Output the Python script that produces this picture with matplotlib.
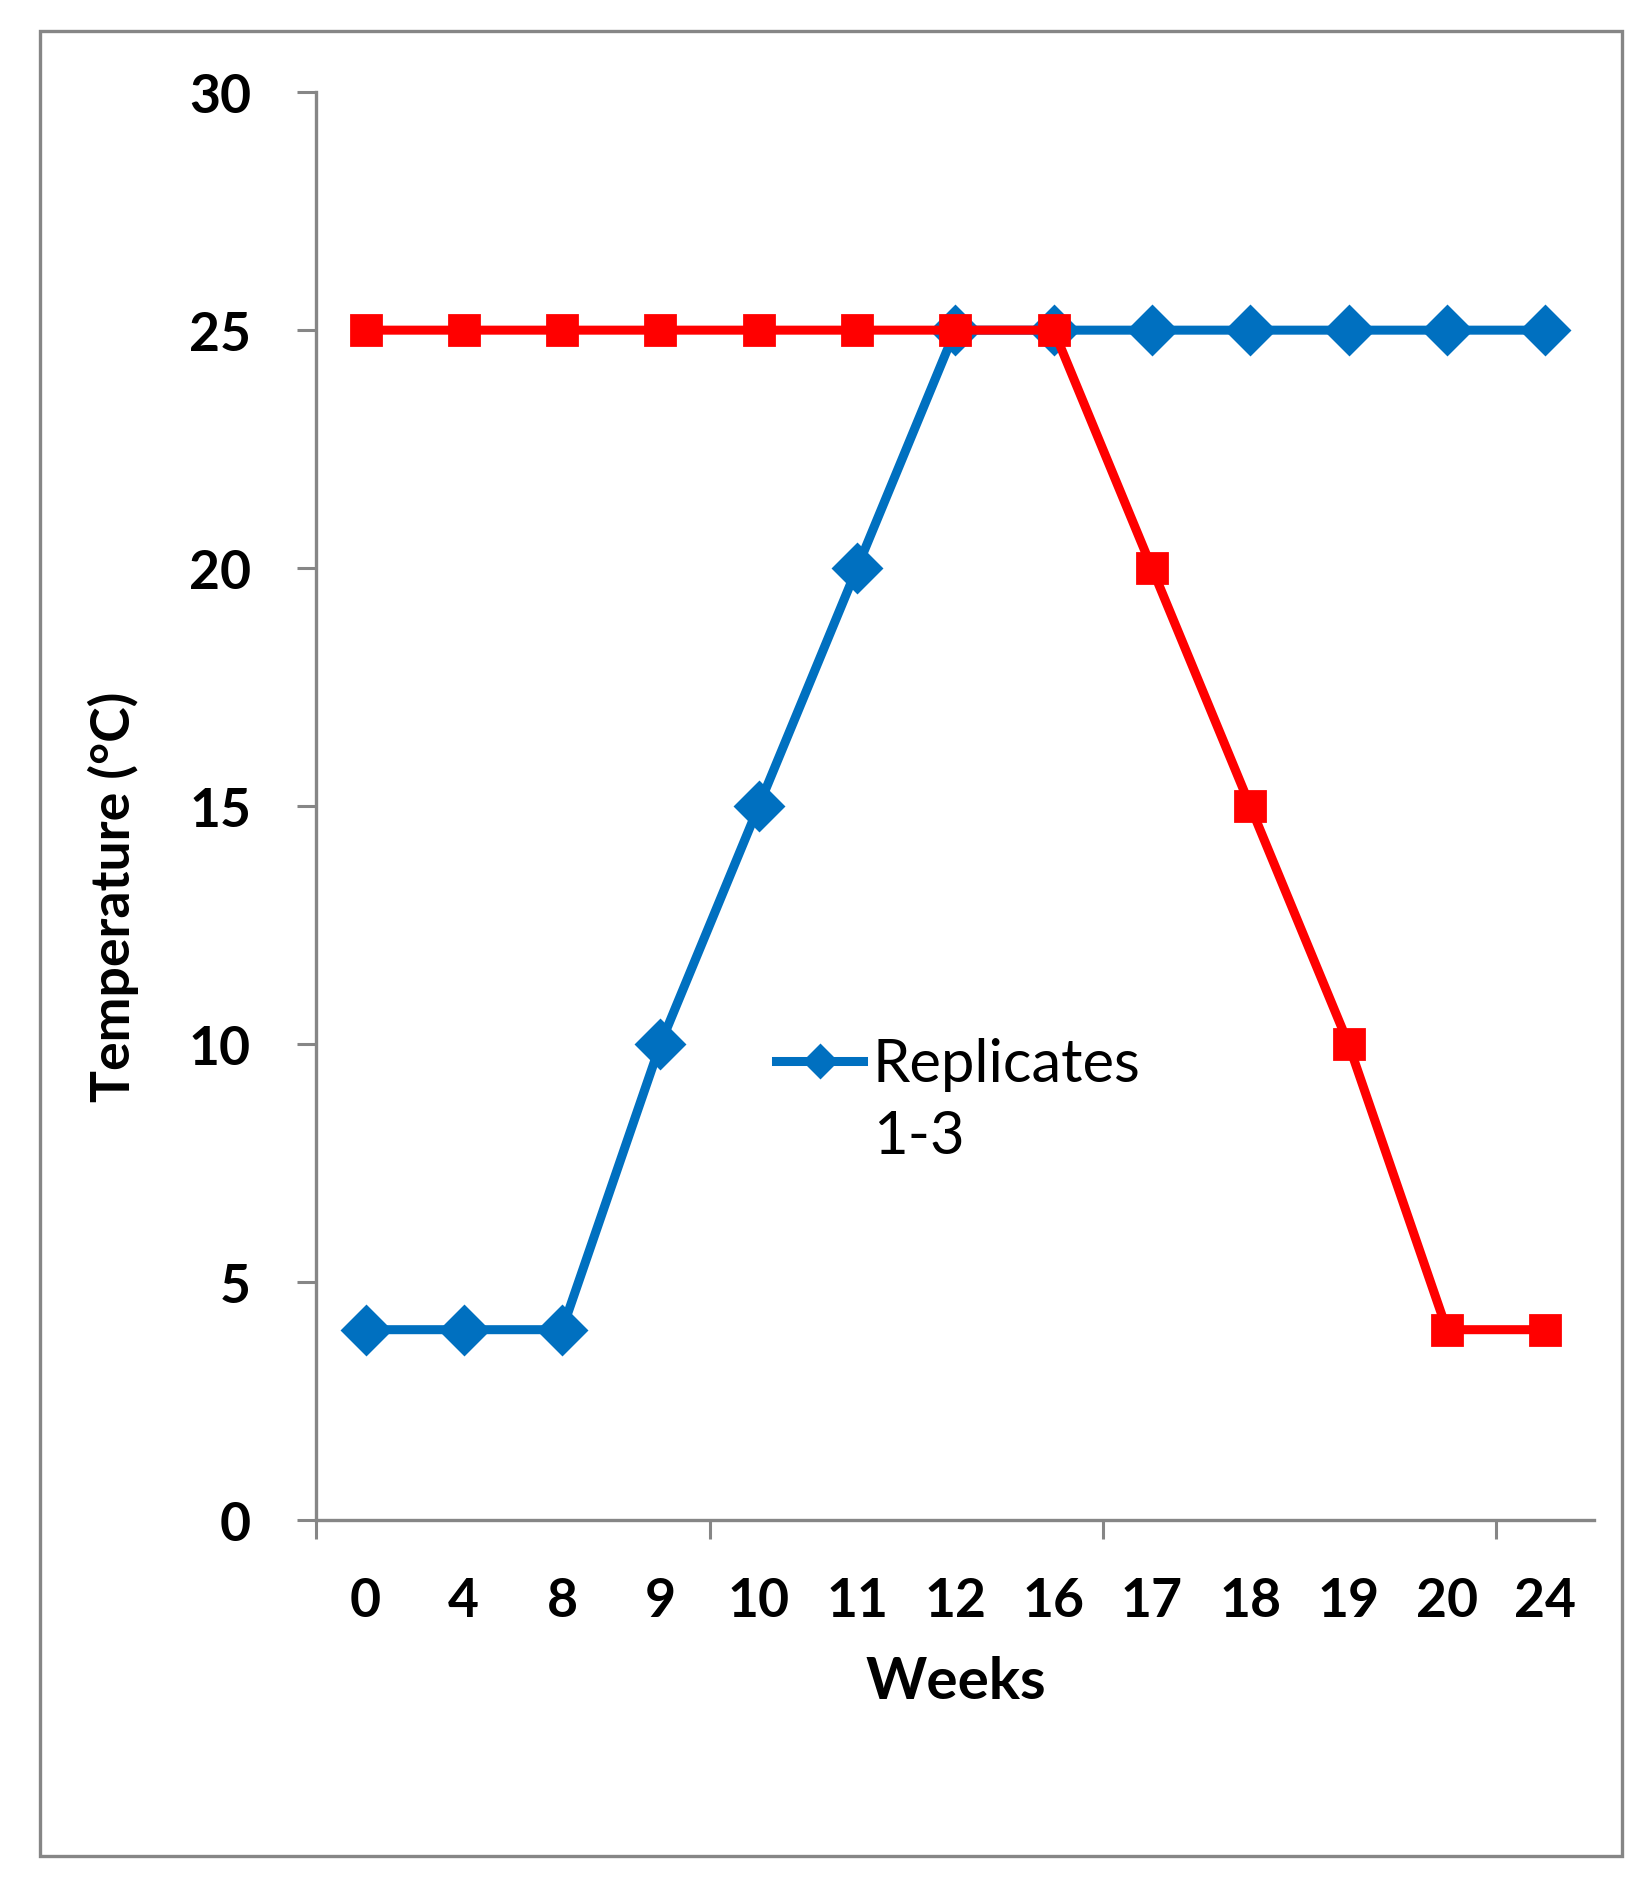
import matplotlib.pyplot as plt
from matplotlib.lines import Line2D
from matplotlib.patches import Rectangle

weeks = ['0', '4', '8', '9', '10', '11', '12', '16', '17', '18', '19', '20', '24']
replicates_1_3 = [4, 4, 4, 10, 15, 20, 25, 25, 25, 25, 25, 25, 25]
second_series = [25, 25, 25, 25, 25, 25, 25, 25, 20, 15, 10, 4, 4]

BLUE = '#0070C0'
RED = '#FF0000'
GRAY = '#868686'
FONT = 'Lato'

fig = plt.figure(figsize=(16.52, 18.9), dpi=100)
fig.patch.set_facecolor('white')

# outer chart-area border
fig.add_artist(Rectangle((0.0242, 0.0175), 0.9576, 0.9655, transform=fig.transFigure,
                         fill=False, edgecolor=GRAY, linewidth=2.4))

ax = fig.add_axes([0.1915, 0.1952, 0.7736, 0.7555])
x = list(range(len(weeks)))

ax.plot(x, replicates_1_3, color=BLUE, lw=6.5, marker='D', ms=24, mew=2,
        mfc=BLUE, mec=BLUE, label='Replicates', zorder=3, solid_joinstyle='miter')
ax.plot(x, second_series, color=RED, lw=6.5, marker='s', ms=21, mew=2,
        mfc=RED, mec=RED, zorder=4, solid_joinstyle='miter')

ax.set_xlim(-0.5, len(weeks) - 0.5)
ax.set_ylim(0, 30)

# category axis: tick marks between categories every 4, labels centred
ax.set_xticks([-0.5, 3.5, 7.5, 11.5])
ax.set_xticklabels([])
ax.set_xticks(x, minor=True)
ax.set_xticklabels(weeks, minor=True)
ax.tick_params(axis='x', which='major', direction='out', length=14, width=2.2, color=GRAY)
ax.tick_params(axis='x', which='minor', length=0, pad=40)
ax.set_yticks(range(0, 31, 5))
ax.tick_params(axis='y', direction='out', length=14, width=2.2, color=GRAY, pad=33)

for lab in ax.get_xticklabels(minor=True) + ax.get_yticklabels():
    lab.set_fontfamily(FONT)
    lab.set_fontweight('bold')
    lab.set_fontsize(38.5)

for side in ['top', 'right']:
    ax.spines[side].set_visible(False)
for side in ['left', 'bottom']:
    ax.spines[side].set_color(GRAY)
    ax.spines[side].set_linewidth(2.4)

ax.set_xlabel('Weeks', fontfamily=FONT, fontweight='bold', fontsize=42, va='center')
ax.xaxis.set_label_coords(0.5, -0.113)
fig.text(0.0686, 0.5255, 'Temperature (°C)', rotation=90, ha='center', va='center',
         fontfamily=FONT, fontweight='bold', fontsize=38.5)

blank = Line2D([], [], color='none')
handles = [ax.get_lines()[0], blank]
leg = ax.legend(handles, ['Replicates', '1-3'], loc='upper left',
                bbox_to_anchor=(0.36, 0.338), frameon=False, borderpad=0,
                borderaxespad=0, handlelength=1.45, handletextpad=0.16,
                labelspacing=0.3, markerscale=0.7,
                prop={'family': FONT, 'size': 43})

fig.savefig('out.png', dpi=100, facecolor='white')
